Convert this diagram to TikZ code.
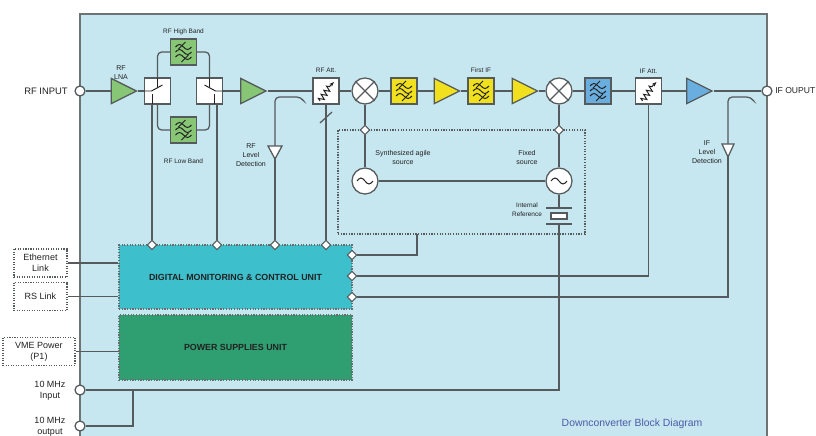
\documentclass[tikz,border=0pt]{standalone}
\usepackage{fontspec}
\setmainfont{Liberation Sans}
\usetikzlibrary{shapes.geometric,calc,arrows.meta,decorations.pathmorphing}
\definecolor{panel}{HTML}{C6E6F0}
\definecolor{lc}{HTML}{555A5C}
\definecolor{txt}{HTML}{222222}
\definecolor{gfill}{HTML}{86C675}
\definecolor{yfill}{HTML}{F0E01E}
\definecolor{bfill}{HTML}{6AAEE0}
\definecolor{dmcuc}{HTML}{3EBFCC}
\definecolor{psuc}{HTML}{2F9E70}
\definecolor{titlec}{HTML}{4A5CA8}
\tikzset{
  ln/.style={draw=lc, line width=0.9pt},
  blk/.style={draw=lc, line width=0.9pt, rectangle, minimum width=0.65cm, minimum height=0.65cm, inner sep=0},
  amp/.style={draw=lc, line width=0.9pt, isosceles triangle, isosceles triangle stretches, minimum width=0.63cm, minimum height=0.63cm, inner sep=0},
  mixer/.style={draw=lc, line width=0.9pt, circle, fill=white, minimum size=0.65cm, inner sep=0},
  port/.style={draw=lc, line width=0.9pt, circle, fill=white, minimum size=0.25cm, inner sep=0},
  dia/.style={draw=lc, line width=0.7pt, diamond, fill=white, minimum size=0.24cm, inner sep=0},
  extbox/.style={draw=lc, densely dotted, line width=0.8pt, fill=white, minimum width=1.325cm, minimum height=0.7cm, inner sep=0, align=center, font=\fontsize{6.4}{7.6}\selectfont, text=txt},
  lb/.style={font=\fontsize{6.4}{7.8}\selectfont, text=txt, align=center, inner sep=0},
  sm/.style={font=\fontsize{5}{6.4}\selectfont, text=txt, align=center, inner sep=0},
  xs/.style={font=\fontsize{4.6}{6.2}\selectfont, text=txt, align=center, inner sep=0},
  icon/.style={draw=txt, line width=0.7pt},
  filt/.pic={
    \foreach \dy in {-5,0,5}
      \draw[icon] (-8,\dy) sin (-4,\dy-2.5) cos (0,\dy) sin (4,\dy+2.5) cos (8,\dy);
    \draw[icon] (-5,-3) -- (2,-10);
    \draw[icon] (-2,10) -- (5,3);
  },
  att/.pic={
    \draw[icon, decorate, decoration={zigzag, amplitude=2pt, segment length=3.5pt}] (-6,10) -- (4,-5);
    \draw[icon, -{Stealth[length=3.5pt]}] (4,-5) -- (8,-9);
  },
  swi/.pic={
    \draw[icon] (-13.5,0) -- (-6,0) -- (5,-6);
    \draw[icon] (0,-13) -- (0,-4);
    \draw[icon] (-5,13) -- (-5,3);
  },
  tilde/.pic={
    \draw[icon] (-8,0) sin (-4,-3) cos (0,0) sin (4,3) cos (8,0);
  }
}
\begin{document}
\begin{tikzpicture}[x=0.025cm, y=-0.025cm]
\useasboundingbox (0,0) rectangle (816,435);
\fill[white] (0,0) rectangle (816,435);
% main panel
\draw[draw=lc!85, fill=panel, line width=1pt] (80,14) rectangle (767,437);

% ---------- nodes of the RF chain
\node[port] (rfin) at (80,91) {};
\node[lb, anchor=east, font=\fontsize{6.7}{8}\selectfont] (rfinl) at (68,91) {RF INPUT};
\node[amp, fill=gfill] (lna) at (119,91) {};
\node[sm] (lnal) at (121,73) {RF\\LNA};
\node[blk, fill=white] (sw1) at (157.5,91) {};
\node[blk, fill=white] (sw2) at (209.5,91) {};
\node[blk, fill=gfill] (fhi) at (183.5,52) {};
\node[blk, fill=gfill] (flo) at (183.5,130) {};
\node[xs] (fhil) at (183.5,32) {RF High Band};
\node[xs] (flol) at (183.5,161) {RF Low Band};
\node[amp, fill=gfill] (amp2) at (248.5,91) {};
\node[blk, fill=white] (rfatt) at (326,91) {};
\node[xs] (rfattl) at (326,70) {RF Att.};
\node[mixer] (mix1) at (365,91) {};
\node[blk, fill=yfill] (yf1) at (404,91) {};
\node[amp, fill=yfill] (ya1) at (442,91) {};
\node[blk, fill=yfill] (yf2) at (481,91) {};
\node[xs] (yf2l) at (481,70) {First IF};
\node[amp, fill=yfill] (ya2) at (520,91) {};
\node[mixer] (mix2) at (559,91) {};
\node[blk, fill=bfill] (bf) at (598,91) {};
\node[blk, fill=white] (ifatt) at (648.5,91) {};
\node[xs] (ifattl) at (648.5,71) {IF Att.};
\node[amp, fill=bfill] (bamp) at (694.5,91) {};
\node[port] (ifout) at (767,91) {};
\node[lb, anchor=west, font=\fontsize{6.1}{8}\selectfont] (ifoutl) at (775,91) {IF OUPUT};

% icons
\pic at (fhi) {filt};
\pic at (flo) {filt};
\pic at (yf1) {filt};
\pic at (yf2) {filt};
\pic at (bf) {filt};
\pic at (rfatt) {att};
\pic at (ifatt) {att};
\pic at (sw1) {swi};
\pic[xscale=-1] at (sw2) {swi};
\draw[ln] (mix1.north west) -- (mix1.south east) (mix1.north east) -- (mix1.south west);
\draw[ln] (mix2.north west) -- (mix2.south east) (mix2.north east) -- (mix2.south west);

% main signal path
\draw[ln] (rfin.east) -- (lna.west) (lna.apex) -- (sw1.west);
\draw[ln] (sw2.east) -- (amp2.west) (amp2.apex) -- (rfatt.west);
\draw[ln] (rfatt.east) -- (mix1.west) (mix1.east) -- (yf1.west);
\draw[ln] (yf1.east) -- (ya1.west) (ya1.apex) -- (yf2.west);
\draw[ln] (yf2.east) -- (ya2.west) (ya2.apex) -- (mix2.west);
\draw[ln] (mix2.east) -- (bf.west) (bf.east) -- (ifatt.west);
\draw[ln] (ifatt.east) -- (bamp.west) (bamp.apex) -- (ifout.west);

% band branches
\draw[ln, rounded corners=3pt] (sw1.north) |- (fhi.west);
\draw[ln, rounded corners=3pt] (fhi.east) -| (sw2.north);
\draw[ln, rounded corners=3pt] (sw1.south) |- (flo.west);
\draw[ln, rounded corners=3pt] (flo.east) -| (sw2.south);

% ---------- control unit & power
\node[draw=lc!90, densely dotted, line width=0.9pt, fill=dmcuc, minimum width=5.825cm, minimum height=1.6cm, inner sep=0,
      font=\bfseries\fontsize{6.3}{7}\selectfont, text=txt] (dmcu) at (235.5,277) {DIGITAL MONITORING \& CONTROL UNIT};
\node[draw=lc!90, densely dotted, line width=0.9pt, fill=psuc, minimum width=5.825cm, minimum height=1.625cm, inner sep=0,
      font=\bfseries\fontsize{6.3}{7}\selectfont, text=txt] (psu) at (235.5,347.5) {POWER SUPPLIES UNIT};

% synthesizer box
\node[draw=lc, densely dotted, line width=0.9pt, minimum width=6.175cm, minimum height=2.6cm, inner sep=0] (synth) at (461.5,182) {};
\node[mixer] (osc1) at (365,181) {};
\node[mixer] (osc2) at (559,181) {};
\pic at (osc1) {tilde};
\pic at (osc2) {tilde};
\node[sm] (osc1l) at (403,157) {Synthesized agile\\source};
\node[sm] (osc2l) at (527,157) {Fixed\\source};
\node[xs] (xtl) at (527,210) {Internal\\Reference};
\coordinate (xt1) at (559,208);
\coordinate (xt2) at (559,224);
\draw[ln] ($(xt1)+(-13,0)$) -- ($(xt1)+(13,0)$);
\draw[ln] ($(xt2)+(-13,0)$) -- ($(xt2)+(13,0)$);
\node[draw=lc, line width=0.9pt, fill=white, minimum width=0.4cm, minimum height=0.15cm, inner sep=0] (xtr) at (559,216) {};

% diamonds
\node[dia] (d1) at (152,245) {};
\node[dia] (d2) at (217,245) {};
\node[dia] (d3) at (275,245) {};
\node[dia] (d4) at (326,245) {};
\node[dia] (d5) at (352,255) {};
\node[dia] (d6) at (352,276) {};
\node[dia] (d7) at (352,297) {};
\node[dia] (d8) at (365,130) {};
\node[dia] (d9) at (559,130) {};

% control lines
\draw[ln] (d1 |- sw1.south) -- (d1);
\draw[ln] (d2 |- sw2.south) -- (d2);
\draw[ln] (rfatt.south) -- (d4);
\draw[ln] (320,123) -- (332,112);
\coordinate (sb) at (417,234);
\draw[ln] (d5) -| (sb);
\draw[ln] (d6) -| (ifatt.south);

% RF level detection
\coordinate (rfhook) at (301,97);
\coordinate (rfdetT) at (275,146);
\coordinate (rfdetB) at (275,159);
\draw[ln, rounded corners=3pt] (rfdetT) |- (rfhook) -- ++(2,3);
\draw[ln, fill=white] ($(rfdetT)+(-7,0)$) -- ($(rfdetT)+(7,0)$) -- (rfdetB) -- cycle;
\draw[ln] (rfdetB) -- (d3);
\node[sm] (rfdetl) at (251,155) {RF\\Level\\Detection};

% IF level detection
\coordinate (ifhook) at (751,97);
\coordinate (ifdetT) at (728,144);
\coordinate (ifdetB) at (728,157);
\draw[ln, rounded corners=3pt] (ifdetT) |- (ifhook) -- ++(2,3);
\draw[ln, fill=white] ($(ifdetT)+(-6,0)$) -- ($(ifdetT)+(6,0)$) -- (ifdetB) -- cycle;
\draw[ln] (d7) -| (ifdetB);
\node[sm] (ifdetl) at (707,152) {IF\\Level\\Detection};

% LO chain
\draw[ln] (mix1.south) -- (d8) -- (osc1.north);
\draw[ln] (mix2.south) -- (d9) -- (osc2.north);
\draw[ln] (osc1.east) -- (osc2.west);
\draw[ln] (osc2.south) -- (xt1);

% external interfaces
\node[extbox] (eth) at (40.5,263) {Ethernet\\Link};
\node[extbox] (rs) at (40.5,296.5) {RS Link};
\node[extbox, minimum width=1.8cm] (vme) at (39,351.5) {VME Power\\(P1)};
\draw[ln] (eth.east) -- (eth.east -| dmcu.west);
\draw[ln] (rs.east) -- (rs.east -| dmcu.west);
\draw[ln] (vme.east) -- (vme.east -| psu.west);

\node[port] (in10) at (80,390) {};
\node[port] (out10) at (80,426) {};
\node[lb] (in10l) at (50,391) {10 MHz\\Input};
\node[lb] (out10l) at (50,427) {10 MHz\\output};
\draw[ln] (in10.east) -| (xt2);
\coordinate (br) at (133,390);
\draw[ln] (br) |- (out10.east);

\node[font=\fontsize{7.4}{8}\selectfont, text=titlec, inner sep=0] (title) at (632,424) {Downconverter Block Diagram};
\end{tikzpicture}
\end{document}
